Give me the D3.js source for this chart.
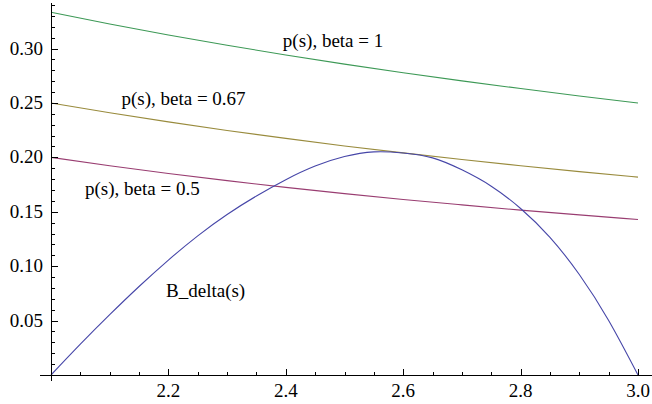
<!DOCTYPE html>
<html>
<head>
<meta charset="utf-8">
<script src="https://cdn.jsdelivr.net/npm/d3@7"></script>
<style>
  html, body { margin: 0; padding: 0; background: #fff; }
</style>
</head>
<body>
<script>
// values
const s_values = [2.0, 2.1, 2.2, 2.3, 2.4, 2.5, 2.6, 2.7, 2.8, 2.9, 3.0];
const p_beta_1 = [0.3333, 0.3226, 0.3125, 0.3030, 0.2941, 0.2857, 0.2778, 0.2703, 0.2632, 0.2564, 0.2500];
const p_beta_067 = [0.2500, 0.2410, 0.2326, 0.2247, 0.2174, 0.2105, 0.2041, 0.1980, 0.1923, 0.1869, 0.1818];
const p_beta_05 = [0.2000, 0.1923, 0.1852, 0.1786, 0.1724, 0.1667, 0.1613, 0.1563, 0.1515, 0.1471, 0.1429];

const b_s = [2.0, 2.05, 2.1, 2.15, 2.2, 2.25, 2.3, 2.35, 2.4, 2.45, 2.5, 2.55, 2.6, 2.65, 2.7, 2.75, 2.8, 2.85, 2.9, 2.95, 3.0];
const b_delta = [0, 0.0283, 0.0554, 0.0813, 0.1056, 0.1279, 0.1475, 0.1645, 0.1795, 0.1920, 0.2007, 0.2050, 0.2040, 0.1995, 0.1885, 0.1735, 0.1530, 0.1265, 0.0923, 0.0501, 0];

const x_ticks = [2.2, 2.4, 2.6, 2.8, 3.0];
const y_ticks = [0.05, 0.10, 0.15, 0.20, 0.25, 0.30];

const label_texts = ['p(s), beta = 1', 'p(s), beta = 0.67', 'p(s), beta = 0.5', 'B_delta(s)'];

const _svg_width = 652;
const _svg_height = 404;
const _x0 = 51, _x1 = 638;
const _y0 = 375, _y1 = 5;
const font_size = 19;
const font_family = 'Liberation Serif';

const x = d3.scaleLinear().domain([2, 3]).range([_x0, _x1]);
const y = d3.scaleLinear().domain([0, 0.34]).range([_y0, _y1]);

const svg = d3.select('body')
    .append('svg')
    .attr('width', _svg_width)
    .attr('height', _svg_height);

// curves
const series = [
    { xs: s_values, ys: p_beta_1, color: '#3d9956' },
    { xs: s_values, ys: p_beta_067, color: '#998b3d' },
    { xs: s_values, ys: p_beta_05, color: '#993d71' },
    { xs: b_s, ys: b_delta, color: '#4646a8' }
];

const line = d3.line()
    .x(d => x(d[0]))
    .y(d => y(d[1]))
    .curve(d3.curveNatural);

svg.selectAll('path.curve')
    .data(series)
    .enter()
    .append('path')
    .attr('class', 'curve')
    .attr('d', d => line(d.xs.map((v, i) => [v, d.ys[i]])))
    .attr('fill', 'none')
    .attr('stroke', d => d.color)
    .attr('stroke-width', 1.1);

// axes, mathematica style: ticks point inward
const axis_g = svg.append('g')
    .attr('stroke', '#000')
    .attr('shape-rendering', 'crispEdges');

axis_g.append('line')
    .attr('x1', 40).attr('x2', 652)
    .attr('y1', _y0 + 0.5).attr('y2', _y0 + 0.5)
    .attr('stroke-width', 1.3);
axis_g.append('line')
    .attr('x1', _x0 + 0.5).attr('x2', _x0 + 0.5)
    .attr('y1', 3).attr('y2', 381)
    .attr('stroke-width', 1.3);

const x_minor = d3.range(2.05, 3.001, 0.05);
axis_g.selectAll('line.xt')
    .data(x_minor)
    .enter()
    .append('line')
    .attr('class', 'xt')
    .attr('x1', d => Math.round(x(d)) + 0.5)
    .attr('x2', d => Math.round(x(d)) + 0.5)
    .attr('y1', _y0)
    .attr('y2', d => _y0 - (Math.abs(d * 5 - Math.round(d * 5)) < 1e-6 ? 6.5 : 3.5))
    .attr('stroke-width', 1);

const y_minor = d3.range(0.01, 0.3401, 0.01);
axis_g.selectAll('line.yt')
    .data(y_minor)
    .enter()
    .append('line')
    .attr('class', 'yt')
    .attr('y1', d => Math.round(y(d)) + 0.5)
    .attr('y2', d => Math.round(y(d)) + 0.5)
    .attr('x1', _x0)
    .attr('x2', d => _x0 + (Math.abs(d * 20 - Math.round(d * 20)) < 1e-6 ? 6.5 : 3.5))
    .attr('stroke-width', 1);

const fmt2 = d3.format('.2f');
const fmt1 = d3.format('.1f');

svg.selectAll('text.xl')
    .data(x_ticks)
    .enter()
    .append('text')
    .attr('class', 'xl')
    .attr('x', d => x(d))
    .attr('y', 397)
    .attr('text-anchor', 'middle')
    .attr('font-family', font_family)
    .attr('font-size', font_size)
    .text(d => fmt1(d));

svg.selectAll('text.yl')
    .data(y_ticks)
    .enter()
    .append('text')
    .attr('class', 'yl')
    .attr('x', 43)
    .attr('y', d => y(d) + 6)
    .attr('text-anchor', 'end')
    .attr('font-family', font_family)
    .attr('font-size', font_size)
    .text(d => fmt2(d));

// curve labels, anchored in data coordinates
const label_pos = [[2.395, 0.301], [2.12, 0.248], [2.058, 0.165], [2.196, 0.072]];
svg.selectAll('text.lab')
    .data(label_texts)
    .enter()
    .append('text')
    .attr('class', 'lab')
    .attr('x', (d, i) => x(label_pos[i][0]))
    .attr('y', (d, i) => y(label_pos[i][1]))
    .attr('font-family', font_family)
    .attr('font-size', font_size)
    .text(d => d);
</script>
</body>
</html>
